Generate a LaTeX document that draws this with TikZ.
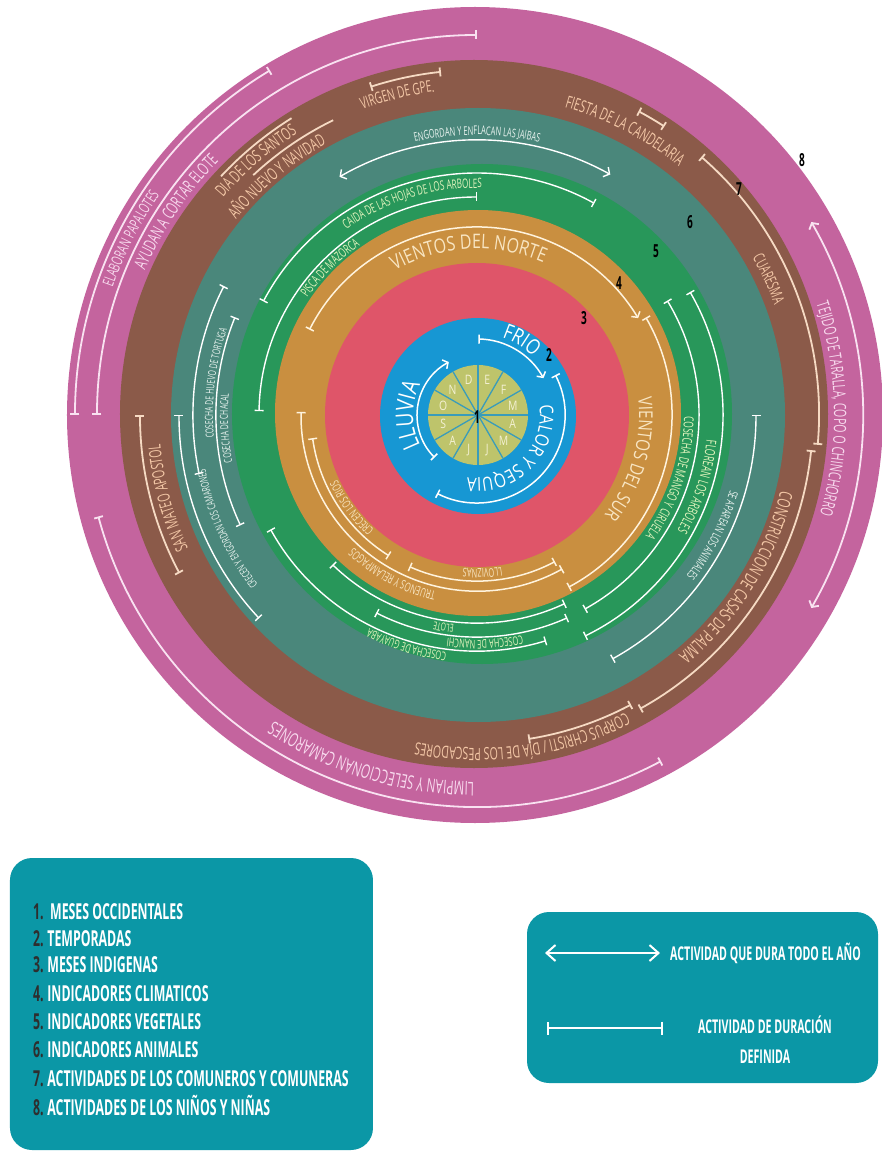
\documentclass[tikz,border=0pt]{standalone}
\usepackage{fontspec}
\usetikzlibrary{decorations.text,arrows.meta,calc}
\newfontfamily\rf[FakeStretch=0.62]{Open Sans}
\newfontfamily\rfw[FakeStretch=0.8]{Open Sans}
\newfontfamily\lf[FakeStretch=0.56]{Open Sans}
\definecolor{cpink}{HTML}{C4649E}
\definecolor{cbrown}{HTML}{8B5A49}
\definecolor{cteal}{HTML}{4A877B}
\definecolor{cgreen}{HTML}{28975A}
\definecolor{corange}{HTML}{C98F40}
\definecolor{cred}{HTML}{DF5569}
\definecolor{cblue}{HTML}{1797D3}
\definecolor{cyel}{HTML}{BEC46B}
\definecolor{cmline}{HTML}{3A9CBA}
\definecolor{cmtext}{HTML}{F4F1D4}
\definecolor{cleg}{HTML}{0B97A6}
\definecolor{cnum}{HTML}{2E2E2E}
\definecolor{lor}{HTML}{FFF3DD}
\definecolor{lbr}{HTML}{F6DAC3}
\definecolor{lpk}{HTML}{F9E2F1}
\definecolor{tor}{HTML}{F8E5C2}
\definecolor{tgr}{HTML}{E3F4BE}
\definecolor{tte}{HTML}{EAF4F0}
\definecolor{tbr}{HTML}{F4C8A7}
\definecolor{tpk}{HTML}{F8DAEE}
\newcommand\ringarc[4]{\draw[#1] (#3:#2) arc[start angle=#3,end angle=#4,radius=#2];}
\newcommand\ringtext[6]{\path[decorate,decoration={text along path,text align=center,text color=#5,text={|#1\fontsize{#4}{#4}\selectfont|#6}}] ({#3+70}:#2) arc[start angle={#3+70},end angle={#3-70},radius=#2];}
\tikzset{
 wl/.style={draw=white,line width=1.5pt},
 ol/.style={draw=lor,line width=1.5pt},
 gl/.style={draw=white,line width=1.4pt},
 tl/.style={draw=white,line width=1.4pt},
 bl/.style={draw=lbr,line width=1.8pt},
 pl/.style={draw=lpk,line width=1.8pt},
 tipbb/.style={{Bar[width=9pt]}-{Bar[width=9pt]}},
 tipba/.style={{Bar[width=9pt]}-{Straight Barb[length=4pt,width=10pt]}},
 tipaa/.style={{Straight Barb[length=4.5pt,width=11pt]}-{Straight Barb[length=4.5pt,width=11pt]}},
 num/.style={font=\lf\bfseries\fontsize{18}{18}\selectfont,text=black,inner sep=0pt},
 mon/.style={font=\rfw\fontsize{13}{13}\selectfont,text=cmtext,inner sep=0pt},
 legbox/.style={fill=cleg,rounded corners=22pt,inner sep=0pt},
 legrow/.style={anchor=west,inner sep=0pt,text=white,font=\lf\bfseries\fontsize{22}{22}\selectfont},
 legtxt/.style={inner sep=0pt,text=white,font=\lf\bfseries\fontsize{19}{30}\selectfont},
 legline/.style={draw=white,line width=2pt},
}
\begin{document}
\begin{tikzpicture}[x=1pt,y=1pt]
\useasboundingbox (-477,-741) rectangle (404,415);
% rings
\fill[cpink] (-2,0) circle[radius=408];
\fill[cbrown] (-3,1) circle[radius=354];
\fill[cteal] (1,0) circle[radius=307];
\fill[cgreen] (5,1) circle[radius=250];
\fill[corange] (1,2) circle[radius=203];
\fill[cred] (0,0) circle[radius=152];
\fill[cblue] (1,-1) circle[radius=98];
\fill[cyel] (1,0) circle[radius=50];
\foreach \a in {0,30,...,330} \draw[cmline,line width=1.3pt] (1,0) -- ++(\a:50);
\foreach \a/\l [count=\i] in {75/E,45/F,15/M,-15/A,-45/M,-75/J,-105/J,-135/A,-165/S,165/O,135/N,105/D}
  \node[mon] (mes\i) at ($(1,0)+(\a:36)$) {\l};
\node[num] (n1) at (0,-2) {1};
% blue ring
\ringarc{wl,tipba}{76}{89}{29}
\ringarc{wl,tipbb}{88}{27}{-117}
\ringarc{wl,tipba}{60}{225}{118}
\ringtext{\rfw}{81}{59}{21}{white}{FRIO}
\ringtext{\rfw}{63}{-45}{19}{white}{CALOR Y SEQUIA}
\ringtext{\rfw}{64}{180}{24}{white}{LLUVIA}
% orange ring
\ringarc{ol,tipba}{188}{153}{31}
\ringarc{ol,tipbb}{195}{30}{-62}
\ringarc{ol,tipbb}{166}{-62}{-114}
\ringarc{ol,tipbb}{176}{-61}{-181}
\ringarc{ol,tipbb}{166}{-122}{-172}
\ringtext{\rfw}{166}{93}{20}{tor}{VIENTOS DEL NORTE}
\ringtext{\rfw}{162}{-16}{19}{tor}{VIENTOS DEL SUR}
\ringtext{\rf}{154}{-88}{12}{tor}{LLOVIZNAS}
\ringtext{\rf}{181}{-118}{12.5}{tor}{TRUENOS Y RELAMPAGOS}
\ringtext{\rf}{154}{-143.5}{12}{tor}{CRECEN LOS RIOS}
% green ring
\ringarc{gl,tipbb}{218}{179}{90}
\ringarc{gl,tipbb}{242}{152}{61}
\ringarc{gl,tipbb}{246}{30}{-64}
\ringarc{gl,tipbb}{222}{31}{-61}
\ringarc{gl,tipbb}{208}{-65}{-134}
\ringarc{gl,tipbb}{222}{-66}{-117}
\ringarc{gl,tipbb}{236}{-73}{-151}
\ringtext{\rf}{206}{135}{13}{tgr}{PISCA DE MAZORCA}
\ringtext{\rf}{227}{107}{13}{tgr}{CAIDA DE LAS HOJAS DE LOS ARBOLES}
\ringtext{\rf}{231}{-18}{14}{tgr}{FLOREAN LOS ARBOLES}
\ringtext{\rf}{207}{-18}{13.5}{tgr}{COSECHA DE MANGO Y CIRUELA}
\ringtext{\rf}{211}{-99}{11}{tgr}{ELOTE}
\ringtext{\rf}{225}{-88}{12}{tgr}{COSECHA DE NANCHI}
\ringtext{\rf}{239}{-107}{12}{tgr}{COSECHA DE GUAYABA}
% teal ring
\ringarc{tl,tipaa}{275}{120}{61}
\ringarc{tl,tipbb}{284}{192}{153}
\ringarc{tl,tipbb}{261}{205}{158}
\ringarc{tl,tipbb}{298}{223}{180}
\ringarc{tl,tipbb}{279}{0}{-61}
\ringtext{\rf}{280}{90}{12}{tte}{ENGORDAN Y ENFLACAN LAS JAIBAS}
\ringtext{\rf}{264}{173}{11}{tte}{COSECHA DE HUEVO DE TORTUGA}
\ringtext{\rf}{249}{183}{11}{tte}{COSECHA DE CHACAL}
\ringtext{\rf}{277}{204.5}{11}{tte}{CRECEN Y ENGORDAN LOS CAMARONES}
\ringtext{\rf}{264}{-27}{12}{tte}{SE APAREAN LOS ANIMALES}
% brown ring
\ringarc{bl,tipbb}{345}{108}{96}
\ringarc{bl,tipbb}{344}{62}{57}
\ringarc{bl}{350}{137}{122}
\ringarc{bl}{328}{133}{116}
\ringarc{bl,tipbb}{337}{208}{180}
\ringarc{bl,tipbb}{342}{49}{-5}
\ringarc{bl,tipbb}{336}{-6}{-61}
\ringarc{bl,tipbb}{328}{-62}{-81}
\ringtext{\rf}{326}{104}{16}{tbr}{VIRGEN DE GPE.}
\ringtext{\rf}{320}{62.5}{17}{tbr}{FIESTA DE LA CANDELARIA}
\ringtext{\rf}{334}{131}{17}{tbr}{DIA DE LOS SANTOS}
\ringtext{\rf}{310}{130}{17}{tbr}{AÑO NUEVO Y NAVIDAD}
\ringtext{\rf}{318}{195}{17}{tbr}{SAN MATEO APOSTOL}
\ringtext{\rf}{317}{25}{16}{tbr}{CUARESMA}
\ringtext{\rf}{313}{-32}{18}{tbr}{CONSTRUCCION DE CASAS DE PALMA}
\ringtext{\rf}{333}{-82}{17}{tbr}{CORPUS CHRISTI / DÍA DE LOS PESCADORES}
% pink ring
\ringarc{pl,tipbb}{402}{180}{121}
\ringarc{pl,tipbb}{380}{180}{90}
\ringarc{pl,tipbb}{392}{-62}{-165}
\ringarc{pl,tipaa}{386}{30}{-30}
\ringtext{\rf}{386}{153}{15.5}{tpk}{ELABORAN PAPALOTES}
\ringtext{\rf}{362}{146}{17.5}{tpk}{AYUDAN A CORTAR ELOTE}
\ringtext{\rf}{367}{-107}{19}{tpk}{LIMPIAN Y SELECCIONAN CAMARONES}
\ringtext{\rf}{357}{1}{17}{tpk}{TEJIDO DE TARALLA, COPO O CHINCHORRO}
% layer numbers
\node[num] (n2) at (72,60) {2};
\node[num] (n3) at (107,97) {3};
\node[num] (n4) at (142,132) {4};
\node[num] (n5) at (179,164) {5};
\node[num] (n6) at (213,193) {6};
\node[num] (n7) at (262,226) {7};
\node[num] (n8) at (325,255) {8};
% legend 1
\node[legbox,minimum width=363pt,minimum height=292pt] (legA) at (-285.5,-589) {};
\node[legrow] (r1) at (-444,-496.7) {\textcolor{cnum}{1.}\ \ MESES OCCIDENTALES};
\node[legrow] (r2) at (-444,-523.3) {\textcolor{cnum}{2.}\,TEMPORADAS};
\node[legrow] (r3) at (-444,-550) {\textcolor{cnum}{3.}\,MESES INDIGENAS};
\node[legrow] (r4) at (-444,-578.3) {\textcolor{cnum}{4.}\,INDICADORES CLIMATICOS};
\node[legrow] (r5) at (-444,-606.7) {\textcolor{cnum}{5.}\,INDICADORES VEGETALES};
\node[legrow] (r6) at (-444,-635) {\textcolor{cnum}{6.}\,INDICADORES ANIMALES};
\node[legrow] (r7) at (-444,-663.3) {\textcolor{cnum}{7.}\,ACTIVIDADES DE LOS COMUNEROS Y COMUNERAS};
\node[legrow] (r8) at (-444,-690) {\textcolor{cnum}{8.}\,ACTIVIDADES DE LOS NIÑOS Y NIÑAS};
% legend 2
\node[legbox,minimum width=351pt,minimum height=171pt] (legB) at (225.5,-582.5) {};
\coordinate (a1) at (68,-538);
\coordinate (a2) at (183,-538);
\draw[legline,{Straight Barb[length=9pt,width=16pt]}-{Straight Barb[length=9pt,width=16pt]}] (a1) -- (a2);
\node[legtxt,anchor=west] (t1) at (193,-538) {ACTIVIDAD QUE DURA TODO EL AÑO};
\coordinate (b1) at (70,-613);
\coordinate (b2) at (186,-613);
\draw[legline,{Bar[width=13pt]}-{Bar[width=13pt]}] (b1) -- (b2);
\node[legtxt,align=center] (t2) at (288,-625) {ACTIVIDAD DE DURACIÓN\\DEFINIDA};
\end{tikzpicture}
\end{document}
